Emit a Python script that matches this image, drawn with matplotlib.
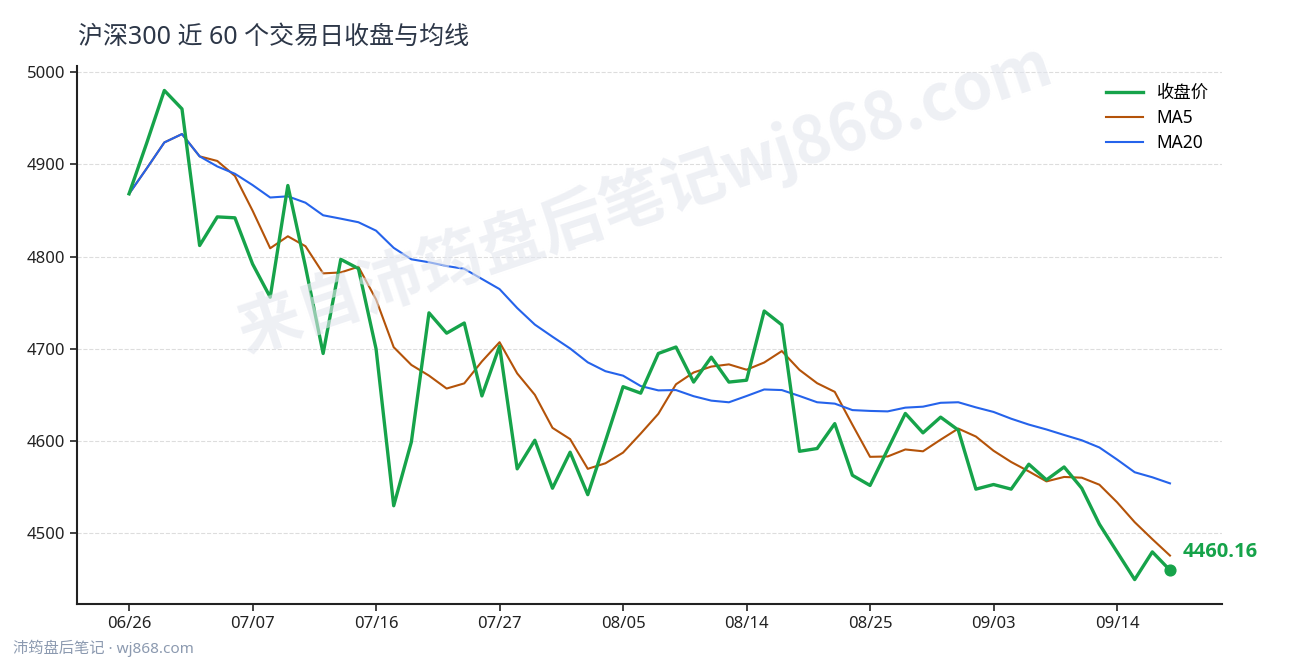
import matplotlib
matplotlib.use("Agg")
import matplotlib.pyplot as plt
import pandas as pd

plt.rcParams['font.family'] = ['Noto Sans', 'Noto Sans CJK SC', 'DejaVu Sans']

# 近 60 个交易日收盘价
close = [
    4868, 4923, 4980, 4960, 4812, 4843, 4842, 4792, 4756, 4877,
    4789, 4695, 4797, 4787, 4700, 4530, 4599, 4739, 4717, 4728,
    4649, 4703, 4570, 4601, 4549, 4588, 4542, 4600, 4659, 4652,
    4695, 4702, 4664, 4691, 4664, 4666, 4741, 4726, 4589, 4592,
    4619, 4563, 4552, 4591, 4630, 4609, 4626, 4612, 4548, 4553,
    4548, 4575, 4558, 4572, 4549, 4510, 4480, 4450, 4480, 4460.16,
]
tick_pos = [0, 7, 14, 21, 28, 35, 42, 49, 56]
tick_labels = ['06/26', '07/07', '07/16', '07/27', '08/05',
               '08/14', '08/25', '09/03', '09/14']

s = pd.Series(close)
ma5 = s.rolling(5, min_periods=1).mean()
ma20 = s.rolling(20, min_periods=1).mean()
x = list(range(len(close)))

fig = plt.figure(figsize=(12.9, 6.6), dpi=100)
ax = fig.add_axes([0.0597, 0.0848, 0.8876, 0.8152])

ax.plot(x, close, color='#16a34a', lw=2.4, label='收盘价', zorder=4)
ax.plot(x, ma5, color='#b45309', lw=1.5, label='MA5', zorder=3)
ax.plot(x, ma20, color='#2563eb', lw=1.5, label='MA20', zorder=3)

# 最新收盘点
ax.scatter([x[-1]], [close[-1]], s=60, color='#16a34a', zorder=5)
ax.annotate(f'{close[-1]:.2f}', (x[-1], close[-1]), xytext=(9, 6),
            textcoords='offset points', color='#16a34a', fontsize=14.5,
            fontweight='bold', va='bottom', ha='left',
            family=['Open Sans', 'DejaVu Sans'])

ax.set_xticks(tick_pos)
ax.set_xticklabels(tick_labels)
ax.set_yticks([4500, 4600, 4700, 4800, 4900, 5000])
ax.tick_params(labelsize=12, length=5, width=1.2, colors='#222222')
ax.grid(axis='y', ls='--', color='#dddddd', lw=0.8)
ax.set_axisbelow(True)
for side in ['top', 'right']:
    ax.spines[side].set_visible(False)
for side in ['left', 'bottom']:
    ax.spines[side].set_linewidth(1.5)
    ax.spines[side].set_color('#222222')

ax.legend(loc='upper right', frameon=False, fontsize=12.5,
          bbox_to_anchor=(1.002, 0.995), handlelength=2.1, labelspacing=0.4)

fig.text(0.0605, 0.944, '沪深300 近 60 个交易日收盘与均线', fontsize=18,
         color='#2d3748', va='center', ha='left')

# 水印
fig.text(0.5, 0.70, '来自沛筠盘后笔记wj868.com', fontsize=46, fontweight='bold',
         color='#e3e6ee', alpha=0.6, rotation=18.5, ha='center', va='center',
         zorder=0, family=['Noto Sans CJK SC', 'DejaVu Sans'])
fig.text(0.01, 0.005, '沛筠盘后笔记 · wj868.com', fontsize=11,
         color='#8c9ab0', ha='left', va='bottom')

fig.savefig('out.png', dpi=100)
